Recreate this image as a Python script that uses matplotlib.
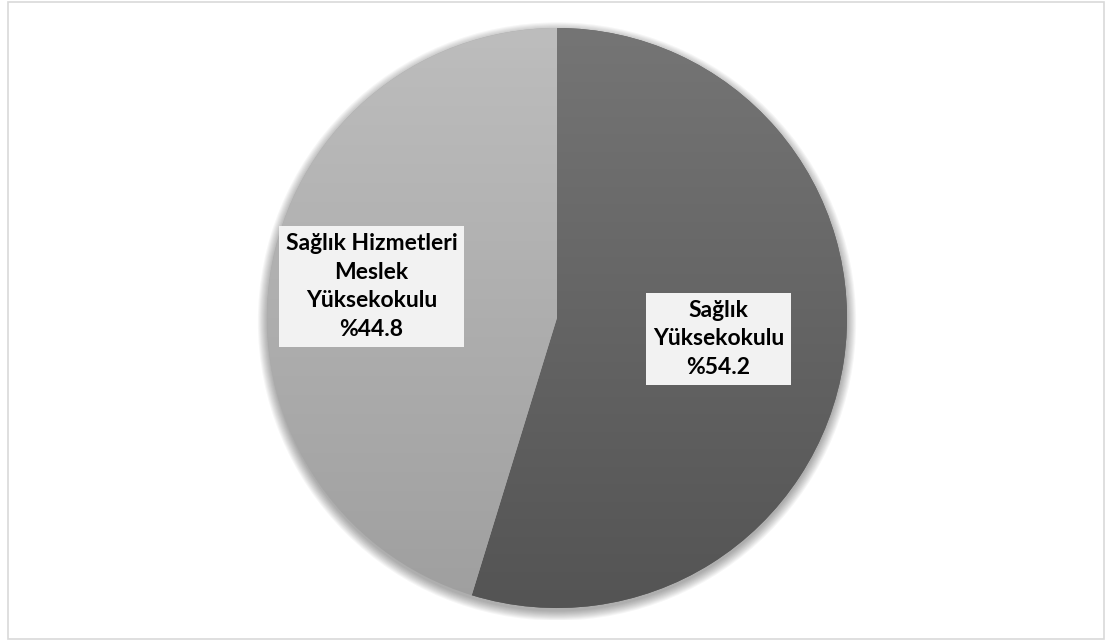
import numpy as np
import matplotlib
matplotlib.use("Agg")
import matplotlib.pyplot as plt
from matplotlib.colors import LinearSegmentedColormap
from matplotlib.patches import Circle, Rectangle

# data
labels = ["Sağlık\nYüksekokulu", "Sağlık Hizmetleri\nMeslek\nYüksekokulu"]
values = [54.2, 44.8]
label_pos = [(0.557, -0.072), (-0.64, 0.109)]
grad_colors = [("#757575", "#545454"), ("#bdbdbd", "#9f9f9f")]

plt.rcParams['font.family'] = ['Lato', 'DejaVu Sans']

fig = plt.figure(figsize=(11.05, 6.4), dpi=100)
# frame around the chart area
fig.patches.append(Rectangle((8 / 1105, 1 / 640), 1096 / 1105, 637 / 640,
                             transform=fig.transFigure, fill=False,
                             edgecolor='#d9d9d9', linewidth=1.2))

cx, cy, r = 557, 318, 290
lim = 1.04
R = r * lim
ax = fig.add_axes([(cx - R) / 1105, (640 - cy - R) / 640, 2 * R / 1105, 2 * R / 640])
ax.set_aspect('equal')
ax.axis('off')

# soft shadow under the pie
for k in range(10):
    ax.add_patch(Circle((0, -0.012), 1.0 + k * 0.0035, color='black',
                        alpha=0.035, lw=0, zorder=0))

wedges, _ = ax.pie(values, startangle=90, counterclock=False, radius=1,
                   wedgeprops=dict(linewidth=0), colors=['#5f5f5f', '#aaaaaa'])

grad = np.linspace(0, 1, 256).reshape(-1, 1)
for w, (c_top, c_bot) in zip(wedges, grad_colors):
    w.set_zorder(1)
    cmap = LinearSegmentedColormap.from_list('g', [c_top, c_bot])
    im = ax.imshow(grad, cmap=cmap, extent=(-1, 1, -1, 1), origin='upper',
                   aspect='auto', zorder=2)
    im.set_clip_path(w)

for lab, v, (x, y) in zip(labels, values, label_pos):
    ax.text(x, y, f"{lab}\n%{v}", ha='center', va='center', fontsize=16.5,
            fontweight='bold', color='black', linespacing=1.45, zorder=5,
            bbox=dict(boxstyle='square,pad=0.3', facecolor='#f2f2f2',
                      edgecolor='none'))

ax.set_xlim(-lim, lim), ax.set_ylim(-lim, lim)
fig.savefig("out.png", dpi=100, facecolor='white')
